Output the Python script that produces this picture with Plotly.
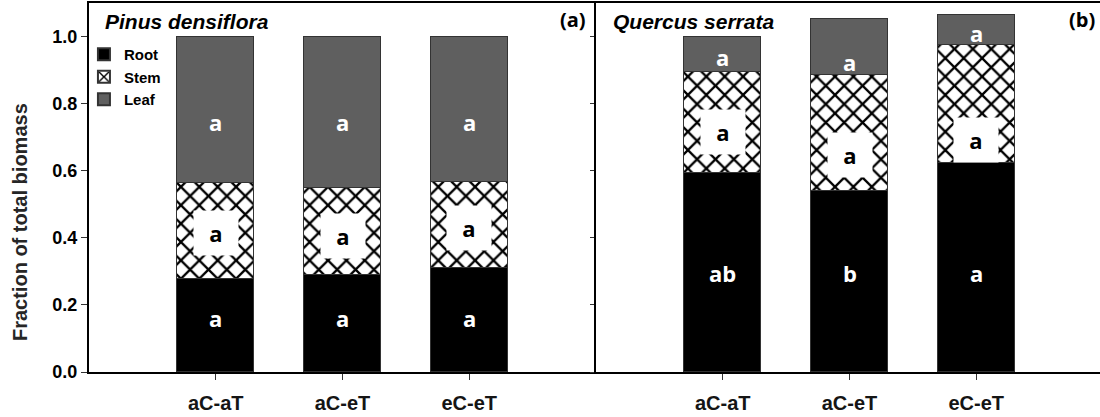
import plotly.graph_objects as go

treatments = ["aC-aT", "aC-eT", "eC-eT"]

# Panel (a) Pinus densiflora: fractions of total biomass
pinus_root = [0.278, 0.290, 0.310]
pinus_stem = [0.285, 0.258, 0.255]
pinus_leaf = [0.437, 0.452, 0.435]

# Panel (b) Quercus serrata
quercus_root = [0.594, 0.540, 0.624]
quercus_stem = [0.299, 0.344, 0.352]
quercus_leaf = [0.107, 0.169, 0.087]

# significance letters
pinus_root_letters = ["a", "a", "a"]
pinus_stem_letters = ["a", "a", "a"]
pinus_leaf_letters = ["a", "a", "a"]
quercus_root_letters = ["ab", "b", "a"]
quercus_stem_letters = ["a", "a", "a"]
quercus_leaf_letters = ["a", "a", "a"]

# letter vertical placement (y in axis units)
pinus_root_label_y = [0.161, 0.161, 0.161]
pinus_stem_label_y = [0.415, 0.406, 0.430]
pinus_leaf_label_y = [0.746, 0.746, 0.746]
quercus_root_label_y = [0.296, 0.296, 0.296]
quercus_stem_label_y = [0.716, 0.648, 0.693]
quercus_leaf_label_y = [0.940, 0.925, 1.012]

ROOT_C = "#000000"
LEAF_C = "#5f5f5f"
EDGE = "#333333"
BW = 0.61

fig = go.Figure()

def add_stack(root, stem, leaf, xa, ya, show):
    fig.add_trace(go.Bar(x=treatments, y=root, name="Root", marker=dict(color=ROOT_C, line=dict(color=EDGE, width=1)),
                         width=BW, xaxis=xa, yaxis=ya, showlegend=show, legendgroup="root"))
    fig.add_trace(go.Bar(x=treatments, y=stem, name="Stem",
                         marker=dict(color="white", line=dict(color=EDGE, width=1),
                                     pattern=dict(shape="x", fgcolor="black", bgcolor="white", size=13,
                                                  solidity=0.32, fillmode="replace", fgopacity=1)),
                         width=BW, xaxis=xa, yaxis=ya, showlegend=show, legendgroup="stem"))
    fig.add_trace(go.Bar(x=treatments, y=leaf, name="Leaf", marker=dict(color=LEAF_C, line=dict(color=EDGE, width=1)),
                         width=BW, xaxis=xa, yaxis=ya, showlegend=show, legendgroup="leaf"))

add_stack(pinus_root, pinus_stem, pinus_leaf, "x", "y", True)
add_stack(quercus_root, quercus_stem, quercus_leaf, "x2", "y2", False)

LBL_FONT = "Open Sans"

def add_letters(letters, ys, xref, yref, color, boxed):
    for t, lt, yy in zip(treatments, letters, ys):
        kw = dict(x=t, y=yy, xref=xref, yref=yref, text=lt, showarrow=False,
                  font=dict(family=LBL_FONT, size=22, color=color, weight="bold"))
        if boxed:
            kw.update(bgcolor="white", width=42, height=42)
        fig.add_annotation(**kw)

add_letters(pinus_root_letters, pinus_root_label_y, "x", "y", "white", False)
add_letters(pinus_stem_letters, pinus_stem_label_y, "x", "y", "black", True)
add_letters(pinus_leaf_letters, pinus_leaf_label_y, "x", "y", "white", False)
add_letters(quercus_root_letters, quercus_root_label_y, "x2", "y2", "white", False)
add_letters(quercus_stem_letters, quercus_stem_label_y, "x2", "y2", "black", True)
add_letters(quercus_leaf_letters, quercus_leaf_label_y, "x2", "y2", "white", False)

# panel titles and tags
fig.add_annotation(x=0.0138, y=0.95, xref="paper", yref="paper", xanchor="left", yanchor="middle",
                   text="<b><i>Pinus densiflora</i></b>", showarrow=False,
                   font=dict(family="Liberation Sans", size=21, color="black"))
fig.add_annotation(x=0.5165, y=0.95, xref="paper", yref="paper", xanchor="left", yanchor="middle",
                   text="<b><i>Quercus serrata</i></b>", showarrow=False,
                   font=dict(family="Liberation Sans", size=21, color="black"))
fig.add_annotation(x=0.4936, y=0.955, xref="paper", yref="paper", xanchor="right", yanchor="middle",
                   text="(a)", showarrow=False, font=dict(family=LBL_FONT, size=20, color="black", weight="bold"))
fig.add_annotation(x=0.997, y=0.955, xref="paper", yref="paper", xanchor="right", yanchor="middle",
                   text="(b)", showarrow=False, font=dict(family=LBL_FONT, size=20, color="black", weight="bold"))
# y-axis title (placed lower than centre, as in the reference)
fig.add_annotation(x=-0.0682, y=0.4065, xref="paper", yref="paper", xanchor="center", yanchor="middle",
                   text="Fraction of total biomass", textangle=-90, showarrow=False,
                   font=dict(family="Liberation Sans", size=20, color="#262626", weight="bold"))

TICKF = dict(family="Liberation Sans", size=18, color="black", weight="bold")
CATF = dict(family="Liberation Sans", size=20, color="#151515", weight="bold")

split = 507 / 1011

fig.update_layout(
    width=1100, height=417,
    margin=dict(l=89, r=0, t=3, b=45, autoexpand=False),
    paper_bgcolor="white", plot_bgcolor="white",
    barmode="stack", bargap=0,
    showlegend=True,
    legend=dict(x=-0.005, y=0.905, xanchor="left", yanchor="top", traceorder="normal",
                bgcolor="rgba(0,0,0,0)", font=dict(family="Liberation Sans", size=15, color="black", weight="bold"),
                itemsizing="constant", tracegroupgap=0),
    xaxis=dict(domain=[0, split], range=[-1, 3], showline=True, linecolor="black", linewidth=2, mirror=True,
               ticks="outside", ticklen=6, tickcolor="#333333", tickwidth=1, tickfont=CATF, showgrid=False,
               zeroline=False, ticklabelstandoff=6, automargin=False),
    yaxis=dict(range=[0, 1.1], showline=True, linecolor="black", linewidth=2, mirror=False,
               ticks="outside", ticklen=6, tickcolor="#333333", tickwidth=1, tickvals=[0, 0.2, 0.4, 0.6, 0.8, 1.0],
               tickformat=".1f", tickfont=TICKF, showgrid=False, zeroline=False, automargin=False),
    xaxis2=dict(domain=[split, 1], range=[-1, 3 - 3 / 127], showline=True, linecolor="black", linewidth=2, mirror=True,
                ticks="outside", ticklen=6, tickcolor="#333333", tickwidth=1, tickfont=CATF, showgrid=False,
                zeroline=False, anchor="y2", ticklabelstandoff=6, automargin=False),
    yaxis2=dict(range=[0, 1.1], showline=True, linecolor="black", linewidth=2, anchor="x2", mirror=False,
                ticks="outside", ticklen=4, tickcolor="#333333", tickwidth=1, tickvals=[0, 0.2, 0.4, 0.6, 0.8, 1.0],
                showticklabels=False, showgrid=False, zeroline=False, automargin=False),
)

fig.write_html("out.html", config={"displayModeBar": False},
               post_script="document.body.style.margin='0px';")
